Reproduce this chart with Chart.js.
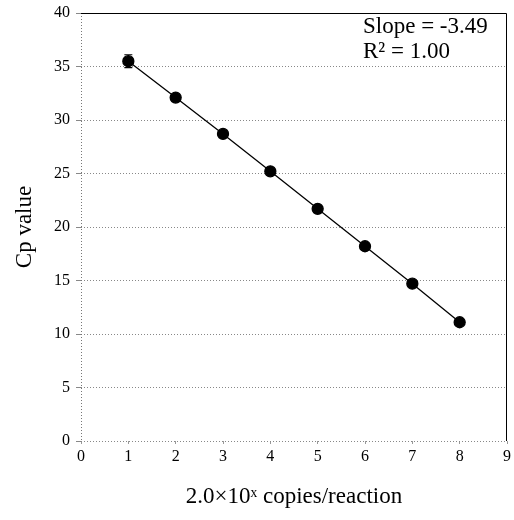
<!DOCTYPE html>
<html lang="en">
<head>
    <meta charset="UTF-8">
    <title>Cp standard curve</title>
    <script src="https://cdn.jsdelivr.net/npm/chart.js"></script>
    <style>
        html, body { margin: 0; padding: 0; background: #fff; }
        #wrap { width: 514px; height: 520px; position: relative; }
    </style>
</head>
<body>
    <div id="wrap"><canvas id="cpChart"></canvas></div>

    <script>
        // Standard curve data
        const dilutions = [1, 2, 3, 4, 5, 6, 7, 8];
        const cpValues = [35.5, 32.1, 28.7, 25.2, 21.7, 18.2, 14.7, 11.1];
        const cpErrors = [0.6, 0.2, 0.1, 0.1, 0.1, 0.1, 0.1, 0.1];
        const xTicks = [0, 1, 2, 3, 4, 5, 6, 7, 8, 9];
        const yTicks = [0, 5, 10, 15, 20, 25, 30, 35, 40];
        const noteLines = ['Slope = -3.49', 'R\u00b2 = 1.00'];

        const serif = "'Liberation Serif', 'Times New Roman', serif";

        // frame, error bars and the fit note
        const extras = {
            id: 'extras',
            beforeDatasetsDraw(chart) {
                const { ctx, chartArea: a, scales: { x, y } } = chart;
                ctx.save();
                ctx.lineWidth = 1;
                ctx.strokeStyle = '#777';
                ctx.setLineDash([1, 2]);
                ctx.beginPath();
                ctx.moveTo(a.left + 0.5, a.top);
                ctx.lineTo(a.left + 0.5, a.bottom);
                ctx.stroke();
                ctx.setLineDash([]);
                ctx.strokeStyle = '#000';
                ctx.beginPath();
                ctx.moveTo(a.left, a.top + 0.5);
                ctx.lineTo(a.right - 0.5, a.top + 0.5);
                ctx.lineTo(a.right - 0.5, a.bottom);
                ctx.stroke();

                // error bars
                ctx.lineWidth = 1.2;
                dilutions.forEach((d, i) => {
                    const px = x.getPixelForValue(d);
                    const hi = y.getPixelForValue(cpValues[i] + cpErrors[i]);
                    const lo = y.getPixelForValue(cpValues[i] - cpErrors[i]);
                    ctx.beginPath();
                    ctx.moveTo(px, hi); ctx.lineTo(px, lo);
                    ctx.moveTo(px - 4, hi); ctx.lineTo(px + 4, hi);
                    ctx.moveTo(px - 4, lo); ctx.lineTo(px + 4, lo);
                    ctx.stroke();
                });

                ctx.fillStyle = '#000';
                ctx.font = '23px ' + serif;
                ctx.textAlign = 'left';
                ctx.textBaseline = 'alphabetic';
                noteLines.forEach((t, i) => {
                    ctx.fillText(t, a.right - 144, a.top + 20 + i * 25);
                });
                ctx.restore();
            }
        };

        new Chart(document.getElementById('cpChart'), {
            type: 'scatter',
            data: {
                datasets: [{
                    data: dilutions.map((d, i) => ({ x: d, y: cpValues[i] })),
                    showLine: true,
                    borderColor: '#000',
                    borderWidth: 1.3,
                    backgroundColor: '#000',
                    pointRadius: 5.5,
                    pointHoverRadius: 5.5
                }]
            },
            options: {
                responsive: true,
                maintainAspectRatio: false,
                animation: false,
                layout: { padding: { left: 0, right: 7, top: 13, bottom: 0 } },
                plugins: { legend: { display: false }, tooltip: { enabled: false } },
                scales: {
                    x: {
                        type: 'linear',
                        min: 0, max: 9,
                        afterBuildTicks: s => { s.ticks = xTicks.map(v => ({ value: v })); },
                        afterFit: s => { s.height = 79; s.paddingLeft = 0; s.paddingRight = 0; },
                        grid: { drawOnChartArea: false, drawTicks: true, tickLength: 3, color: '#999' },
                        border: { display: false },
                        ticks: { color: '#000', padding: 3, font: { family: serif, size: 16 } },
                        title: {
                            display: true,
                            text: '2.0×10ˣ copies/reaction',
                            color: '#000',
                            font: { family: serif, size: 23 },
                            padding: { top: 4, bottom: 9 }
                        }
                    },
                    y: {
                        min: 0, max: 40,
                        afterBuildTicks: s => { s.ticks = yTicks.map(v => ({ value: v })); },
                        afterFit: s => { s.width = 81; s.paddingTop = 0; s.paddingBottom = 0; },
                        grid: { color: '#888', lineWidth: 1, drawTicks: true, tickLength: 5 },
                        border: { display: false, dash: [1, 2] },
                        ticks: { color: '#000', padding: 6, font: { family: serif, size: 16 } },
                        title: {
                            display: true,
                            text: 'Cp value',
                            color: '#000',
                            font: { family: serif, size: 23 },
                            padding: { top: 11, bottom: 0 }
                        }
                    }
                }
            },
            plugins: [extras]
        });
    </script>
</body>
</html>
